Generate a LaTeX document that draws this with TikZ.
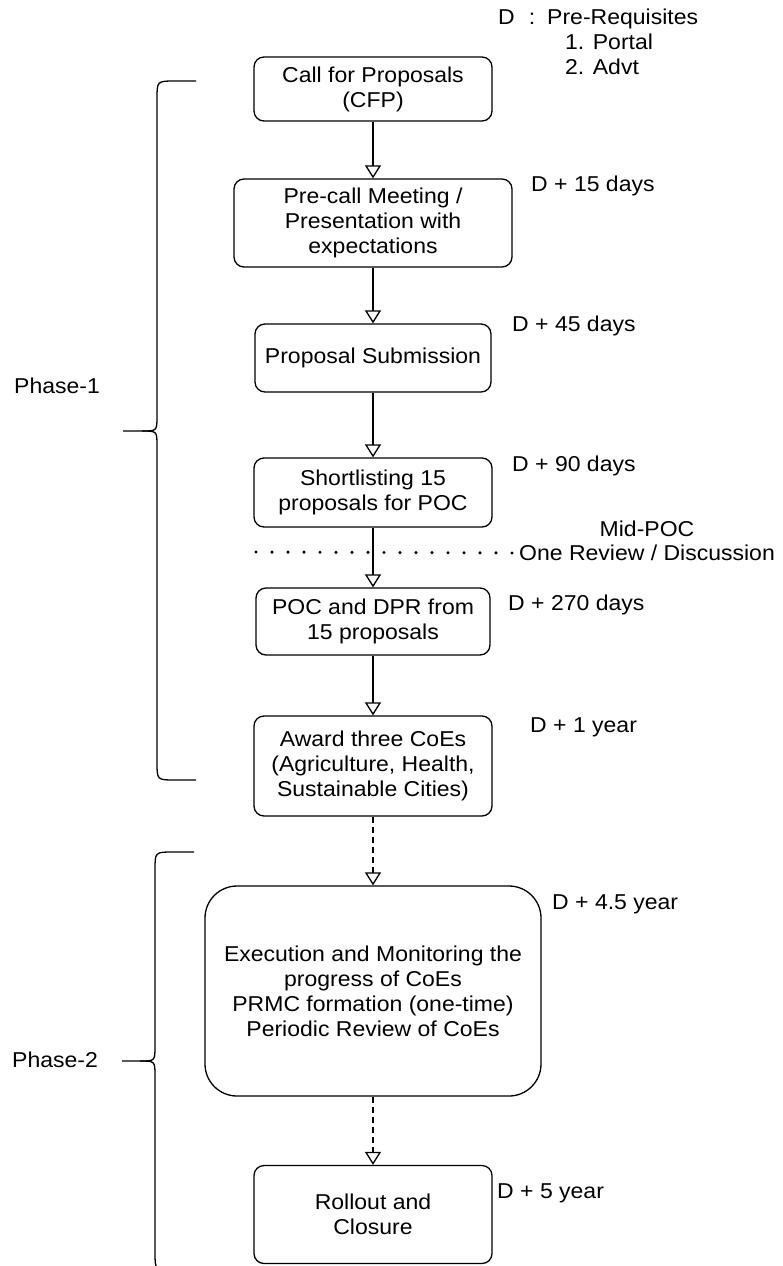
\documentclass[tikz,border=0pt]{standalone}
\usepackage{fontspec}
\setmainfont{Liberation Sans}[FakeStretch=1.07]
\usetikzlibrary{arrows.meta}
\newcommand{\dfont}{\fontsize{21.5}{25}\selectfont}
\begin{document}
\begin{tikzpicture}[x=1pt,y=-1pt,
  box/.style={draw, rounded corners=10pt, align=center, line width=1.3pt, inner sep=0pt, font=\dfont},
  lbl/.style={font=\dfont, inner sep=0pt, anchor=west},
  arr/.style={line width=1.3pt, -{Triangle[open, length=13pt, width=16pt, fill=white]}},
  dsh/.style={dash pattern=on 6pt off 4pt},
  brace/.style={line width=1.3pt}]
\useasboundingbox (0,0) rectangle (782,1266);

% boxes
\node[box, minimum width=238pt, minimum height=64pt] (cfp) at (373,89) {Call for Proposals\\(CFP)};
\node[box, minimum width=278pt, minimum height=88pt] (pre) at (373,223) {Pre-call Meeting /\\Presentation with\\expectations};
\node[box, minimum width=236pt, minimum height=68pt] (sub) at (373,358) {Proposal Submission};
\node[box, minimum width=238pt, minimum height=69pt] (short) at (373,492.5) {Shortlisting 15\\proposals for POC};
\node[box, minimum width=234pt, minimum height=67pt] (poc) at (373,621.5) {POC and DPR from\\15 proposals};
\node[box, minimum width=238pt, minimum height=100pt] (award) at (373,766) {Award three CoEs\\(Agriculture, Health,\\Sustainable Cities)};
\node[box, rounded corners=32pt, minimum width=336pt, minimum height=210pt] (exec) at (373,991) {Execution and Monitoring the\\progress of CoEs\\PRMC formation (one-time)\\Periodic Review of CoEs};
\node[box, minimum width=238pt, minimum height=98pt] (roll) at (373,1214.5) {Rollout and\\Closure};

% arrows
\draw[arr] (cfp.south) -- (pre.north);
\draw[arr] (pre.south) -- (sub.north);
\draw[arr] (sub.south) -- (short.north);
\draw[arr] (short.south) -- (poc.north);
\draw[arr] (poc.south) -- (award.north);
\draw[arr, dsh] (award.south) -- (exec.north);
\draw[arr, dsh] (exec.south) -- (roll.north);

% prerequisites
\node[font=\dfont, inner sep=0pt, anchor=north west, align=left] (pre-req) at (498,9)
  {D\hspace{14pt}:\hspace{12pt}Pre-Requisites\\\hspace*{67pt}1. Portal\\\hspace*{67pt}2. Advt};

% time labels
\node[lbl] (t1) at (531,186) {D + 15 days};
\node[lbl] (t2) at (512,326) {D + 45 days};
\node[lbl] (t3) at (512,466) {D + 90 days};
\node[lbl] (t4) at (508,605) {D + 270 days};
\node[lbl] (t5) at (530,727) {D + 1 year};
\node[lbl] (t6) at (552,904) {D + 4.5 year};
\node[lbl] (t7) at (497,1193) {D + 5 year};

% mid-POC review
\node[font=\dfont, inner sep=0pt] (midpoc) at (647,529) {Mid-POC};
\node[font=\dfont, inner sep=0pt] (review) at (647,553) {One Review / Discussion};
\coordinate (dotstart) at (256,552);
\draw[line width=3.4pt, line cap=round, dash pattern=on 0pt off 16pt] (dotstart) -- (review.west);

% phase labels
\node[font=\dfont, inner sep=0pt] (ph1) at (57,386) {Phase-1};
\node[font=\dfont, inner sep=0pt] (ph2) at (55,1060) {Phase-2};

% Phase-1 brace
\draw[brace] (196,81) -- (175,81) .. controls (157,81) .. (157,99) -- (157,416)
  .. controls (157,431) .. (142,431) -- (123,431);
\draw[brace] (142,431) .. controls (157,431) .. (157,446) -- (157,762)
  .. controls (157,780) .. (175,780) -- (196,780);

% Phase-2 brace
\draw[brace] (194,852) -- (173,852) .. controls (155,852) .. (155,870) -- (155,1046)
  .. controls (155,1061) .. (140,1061) -- (122,1061);
\draw[brace] (140,1061) .. controls (155,1061) .. (155,1076) -- (155,1252)
  .. controls (155,1270) .. (173,1270) -- (194,1270);
\end{tikzpicture}
\end{document}
